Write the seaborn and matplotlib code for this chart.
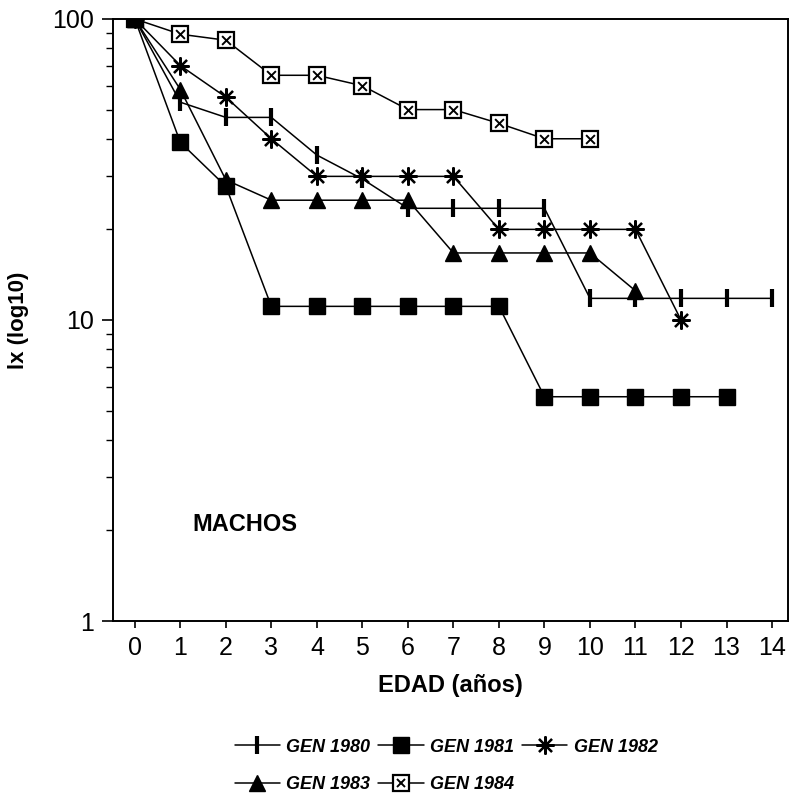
import numpy as np
import pandas as pd
import matplotlib
matplotlib.use("Agg")
import matplotlib.pyplot as plt
import seaborn as sns
from matplotlib.lines import Line2D
from matplotlib.ticker import LogLocator, FixedLocator, NullFormatter

# survivorship lx (%) per generation
edad = list(range(15))
gen_1980 = [100, 52.9, 47.1, 47.1, 35.3, 29.4, 23.5, 23.5, 23.5, 23.5, 11.8, 11.8, 11.8, 11.8, 11.8]
gen_1981 = [100, 38.9, 27.8, 11.1, 11.1, 11.1, 11.1, 11.1, 11.1, 5.56, 5.56, 5.56, 5.56, 5.56]
gen_1982 = [100, 70, 55, 40, 30, 30, 30, 30, 20, 20, 20, 20, 10]
gen_1983 = [100, 58.3, 29.2, 25, 25, 25, 25, 16.7, 16.7, 16.7, 16.7, 12.5]
gen_1984 = [100, 89, 85, 65, 65, 60, 50, 50, 45, 40, 40]

series = {
    "GEN 1980": gen_1980,
    "GEN 1981": gen_1981,
    "GEN 1982": gen_1982,
    "GEN 1983": gen_1983,
    "GEN 1984": gen_1984,
}

sns.set_style("white")
plt.rcParams["font.family"] = ["Liberation Sans", "DejaVu Sans"]
plt.rcParams["text.color"] = "black"
plt.rcParams["axes.labelcolor"] = "black"

fig = plt.figure(figsize=(7.94, 7.97), dpi=100)
ax = fig.add_axes([0.1423, 0.2208, 0.8501, 0.7554])

styles = {
    "GEN 1980": dict(marker="|", markersize=13, markeredgewidth=3.0),
    "GEN 1981": dict(marker="s", markersize=11, markeredgewidth=1.0),
    "GEN 1982": dict(marker=(8, 2, 0), markersize=13, markeredgewidth=1.6),
    "GEN 1983": dict(marker="^", markersize=12, markeredgewidth=1.0),
    "GEN 1984": dict(marker="s", markersize=11, markeredgewidth=1.6,
                     markerfacecolor="white"),
}
zorders = {"GEN 1984": 2, "GEN 1983": 3, "GEN 1982": 3, "GEN 1980": 3, "GEN 1981": 4}

for name in ["GEN 1984", "GEN 1983", "GEN 1982", "GEN 1980", "GEN 1981"]:
    vals = series[name]
    df = pd.DataFrame({"edad": edad[:len(vals)], "lx": vals})
    st = styles[name]
    sns.lineplot(data=df, x="edad", y="lx", ax=ax, color="black", linewidth=1.1,
                 marker=st["marker"], markersize=st["markersize"],
                 markeredgewidth=st["markeredgewidth"], markeredgecolor="black",
                 markerfacecolor=st.get("markerfacecolor", "black"),
                 zorder=zorders[name])

# cross inside the 1984 boxes
df84 = pd.DataFrame({"edad": edad[:len(gen_1984)], "lx": gen_1984})
sns.scatterplot(data=df84, x="edad", y="lx", ax=ax, marker="x", s=40,
                color="black", linewidth=1.4, zorder=2.5)

ax.set_yscale("log")
ax.set_ylim(1, 100)
ax.set_xlim(-0.48, 14.35)
ax.set_xticks(range(15))
ax.yaxis.set_major_locator(FixedLocator([1, 10, 100]))
ax.set_yticklabels(["1", "10", "100"])
ax.yaxis.set_minor_locator(LogLocator(base=10, subs=np.arange(2, 10)))
ax.yaxis.set_minor_formatter(NullFormatter())

ax.tick_params(axis="both", which="major", direction="out", width=1.2,
               labelsize=18, color="black", labelcolor="black",
               bottom=True, left=True, top=False, right=False)
ax.tick_params(axis="x", which="major", length=5, pad=6)
ax.tick_params(axis="y", which="major", length=8, pad=6)
ax.tick_params(axis="y", which="minor", direction="out", length=5, width=1.0,
               left=True, right=False, color="black")
for sp in ax.spines.values():
    sp.set_color("black")
    sp.set_linewidth(1.4)

ax.set_xlabel("EDAD (años)", fontsize=17, fontweight="bold", labelpad=10)
ax.set_ylabel("lx (log10)", fontsize=16, fontweight="bold", labelpad=16)

ax.text(0.118, 0.161, "MACHOS", transform=ax.transAxes, fontsize=17,
        fontweight="bold", ha="left", va="center")

# legend, filled row-wise
def handle(name):
    st = styles[name]
    ln = Line2D([], [], color="black", linewidth=1.1, marker=st["marker"],
                markersize=st["markersize"], markeredgewidth=st["markeredgewidth"],
                markeredgecolor="black",
                markerfacecolor=st.get("markerfacecolor", "black"))
    if name == "GEN 1984":
        xm = Line2D([], [], color="black", linestyle="none", marker="x",
                    markersize=6, markeredgewidth=1.4)
        return (ln, xm)
    return ln

order = ["GEN 1980", "GEN 1983", "GEN 1981", "GEN 1984", "GEN 1982"]
leg = fig.legend([handle(n) for n in order], order, loc="center",
                 bbox_to_anchor=(0.562, 0.039), ncol=3, frameon=False,
                 handlelength=2.5, handletextpad=0.35, columnspacing=0.45,
                 labelspacing=1.15,
                 prop=dict(family="Liberation Sans", weight="bold",
                           style="italic", size=13))

fig.savefig("out.png", dpi=100)
